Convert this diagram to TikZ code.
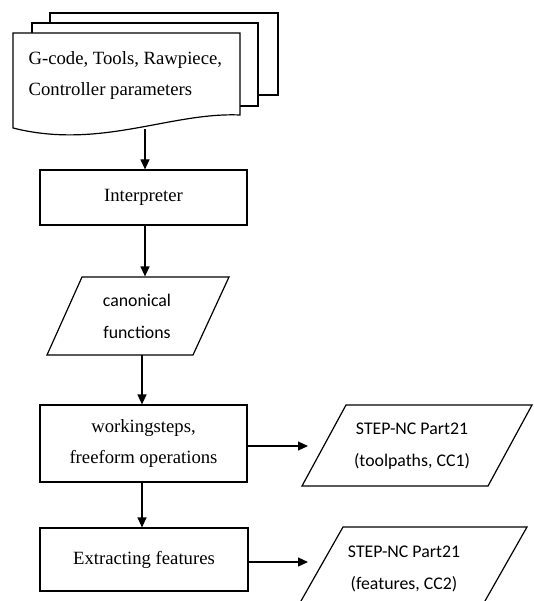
\documentclass[tikz,border=0pt]{standalone}
\usepackage{fontspec}
\setmainfont{Liberation Serif}
\newfontfamily\sansf{Carlito}
\usetikzlibrary{arrows.meta}
\begin{document}
\begin{tikzpicture}[x=1pt,y=-1pt,
  line width=1.2pt,
  box/.style={draw, inner sep=0pt, align=center, font=\fontsize{18.7}{31}\selectfont},
  txt/.style={inner sep=0pt, align=left, font=\fontsize{18.7}{31}\selectfont},
  lbl/.style={inner sep=0pt, align=center, font=\sansf\fontsize{17.8}{32}\selectfont},
  arr/.style={-{Triangle[length=10pt,width=9pt]}},
  page/.style={draw, fill=white, line join=miter}]
\path[use as bounding box] (0,0) rectangle (533,601);
\clip (0,0) rectangle (533,601);
% multi-document
\draw[page] (50,13) rectangle (278,95);
\draw[page] (32,23) rectangle (258,106);
\draw[page] (13,33) -- (240,33) -- (240,115) .. controls (170,112) and (100,150) .. (13,128) -- cycle;
\node[txt, anchor=west] (doc) at (28,76) {G-code, Tools, Rawpiece,\\Controller parameters};
\coordinate (docb) at (145,129);
% boxes
\node[box, minimum width=207pt, minimum height=55pt] (interp) at (143.5,197.5) {Interpreter};
\node[box, minimum width=207pt, minimum height=77pt] (work) at (143.5,443.5) {workingsteps,\\freeform operations};
\node[box, minimum width=208pt, minimum height=63pt] (extract) at (144,559.5) {Extracting features};
% parallelograms
\draw (82,277) -- (229,277) -- (193,355) -- (47,355) -- cycle;
\node[lbl, minimum height=78pt] (canon) at (137,316) {canonical\\functions};
\draw (346,405) -- (532,405) -- (488,486) -- (302,486) -- cycle;
\node[lbl] (p1) at (412,446) {STEP-NC Part21\\(toolpaths, CC1)};
\draw (343,527) -- (527,527) -- (481,608) -- (297,608) -- cycle;
\node[lbl] (p2) at (404,569) {STEP-NC Part21\\(features, CC2)};
\coordinate (a1) at (308,446);
\coordinate (a2) at (308,562);
\coordinate (cb) at (142,355);
% connectors
\draw[arr] (docb) -- (docb |- interp.north);
\draw[arr] (interp.south -| docb) -- (docb |- canon.north);
\draw[arr] (cb) -- (cb |- work.north);
\draw[arr] (cb |- work.south) -- (cb |- extract.north);
\draw[arr] (work.east |- a1) -- (a1);
\draw[arr] (extract.east |- a2) -- (a2);
\end{tikzpicture}
\end{document}
